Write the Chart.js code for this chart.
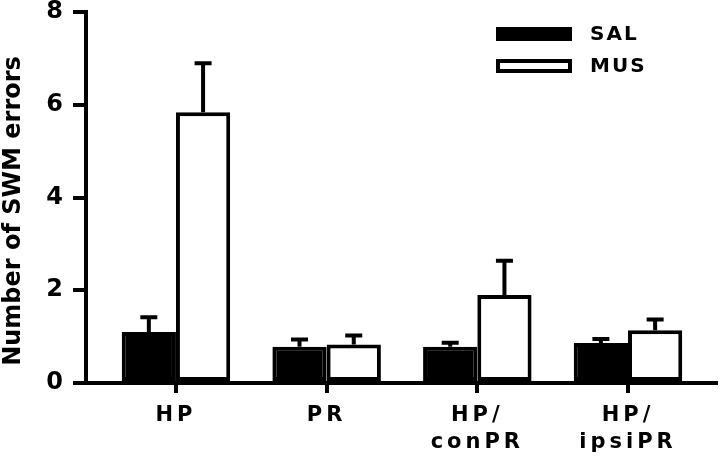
<!DOCTYPE html>
<html>
<head>
<meta charset="utf-8">
<script src="https://cdn.jsdelivr.net/npm/chart.js@4/dist/chart.umd.min.js"></script>
<style>
  html, body { margin: 0; padding: 0; background: #fff; }
  canvas { display: block; }
</style>
</head>
<body>
<canvas id="chartSwm" width="720" height="465"></canvas>
<script>
// ---- data ----
const groups = [["HP"], ["PR"], ["HP/", "conPR"], ["HP/", "ipsiPR"]];
const salMeans = [1.10, 0.78, 0.78, 0.86];
const salErrors = [0.36, 0.20, 0.13, 0.13];
const musMeans = [5.84, 0.83, 1.90, 1.14];
const musErrors = [1.10, 0.24, 0.78, 0.27];
const yTicks = [0, 2, 4, 6, 8];
const yTitle = "Number of SWM errors";

const FONT = "'DejaVu Sans', 'Liberation Sans', Arial, sans-serif";

// error bars (upper half only), y title, legend
const errorBars = {
  id: "errorBars",
  afterDatasetsDraw(chart) {
    const { ctx, scales: { y } } = chart;
    ctx.save();
    ctx.strokeStyle = "#000";
    ctx.lineWidth = 4;
    chart.data.datasets.forEach((ds, i) => {
      chart.getDatasetMeta(i).data.forEach((bar, j) => {
        const top = y.getPixelForValue(ds.data[j].y + ds.errors[j]) + 2;
        ctx.beginPath();
        ctx.moveTo(bar.x, bar.y);
        ctx.lineTo(bar.x, top);
        ctx.moveTo(bar.x - 8.5, top);
        ctx.lineTo(bar.x + 8.5, top);
        ctx.stroke();
      });
    });
    ctx.restore();
    // x labels are drawn after this (ticks.z = 1)
    ctx.letterSpacing = "4px";
  },
  afterDraw(chart) {
    const { ctx, chartArea } = chart;
    ctx.letterSpacing = "0px";

    // y axis title, a bit below the axis centre as in the figure
    ctx.save();
    ctx.translate(14, chartArea.top + 199);
    ctx.rotate(-Math.PI / 2);
    ctx.font = "bold 24px " + FONT;
    ctx.textAlign = "center";
    ctx.textBaseline = "middle";
    ctx.fillStyle = "#000";
    ctx.fillText(yTitle, 0, 0);
    ctx.restore();

    // legend, top right
    ctx.save();
    const bx = chartArea.right - 220;
    const tx = bx + 94;
    ctx.font = "bold 20px " + FONT;
    ctx.letterSpacing = "2px";
    ctx.textBaseline = "middle";
    ctx.fillStyle = "#000";
    const ds = chart.data.datasets;
    // SAL: filled
    ctx.fillRect(bx, 27, 76, 14);
    ctx.fillText(ds[0].label, tx, 35);
    // MUS: hollow
    ctx.lineWidth = 4;
    ctx.strokeStyle = "#000";
    ctx.strokeRect(bx + 2, 61, 72, 10);
    ctx.fillText(ds[1].label, tx, 67);
    ctx.restore();
  }
};

new Chart(document.getElementById("chartSwm"), {
  type: "bar",
  data: {
    datasets: [
      {
        label: "SAL",
        data: salMeans.map((v, i) => ({ x: i + 1, y: v })),
        errors: salErrors,
        backgroundColor: "#000",
        borderColor: "#000",
        borderWidth: 4,
        borderSkipped: false
      },
      {
        label: "MUS",
        data: musMeans.map((v, i) => ({ x: i + 1, y: v })),
        errors: musErrors,
        backgroundColor: "#fff",
        borderColor: "#000",
        borderWidth: 4,
        borderSkipped: false
      }
    ]
  },
  options: {
    responsive: false,
    animation: false,
    categoryPercentage: 0.72,
    barPercentage: 1.0,
    layout: { padding: { left: 0, right: 4, top: 12, bottom: 0 } },
    plugins: {
      legend: { display: false },
      tooltip: { enabled: false }
    },
    scales: {
      x: {
        type: "linear",
        offset: false,
        min: 0.403,
        max: 4.584,
        afterBuildTicks: s => { s.ticks = groups.map((g, i) => ({ value: i + 1 })); },
        afterFit: s => {
          s.height = 82;
          s.paddingLeft = 0;
          s.paddingRight = 0;
        },
        border: { color: "#000", width: 4 },
        grid: {
          offset: false,
          drawOnChartArea: false,
          drawTicks: true,
          tickLength: 10,
          color: "#000",
          lineWidth: 4
        },
        ticks: {
          z: 1,
          autoSkip: false,
          maxRotation: 0,
          padding: 9,
          color: "#000",
          font: { family: FONT, size: 21, weight: "bold", lineHeight: 1.3 },
          callback: v => groups[v - 1]
        }
      },
      y: {
        min: 0,
        max: 8,
        afterBuildTicks: s => { s.ticks = yTicks.map(v => ({ value: v })); },
        afterFit: s => {
          s.width = 86;
          s.paddingTop = 0;
          s.paddingBottom = 0;
        },
        border: { color: "#000", width: 4 },
        grid: {
          drawOnChartArea: false,
          drawTicks: true,
          tickLength: 13,
          color: "#000",
          lineWidth: 4
        },
        ticks: {
          padding: 10,
          color: "#000",
          font: { family: FONT, size: 24, weight: "bold" }
        }
      }
    }
  },
  plugins: [errorBars]
});
</script>
</body>
</html>
